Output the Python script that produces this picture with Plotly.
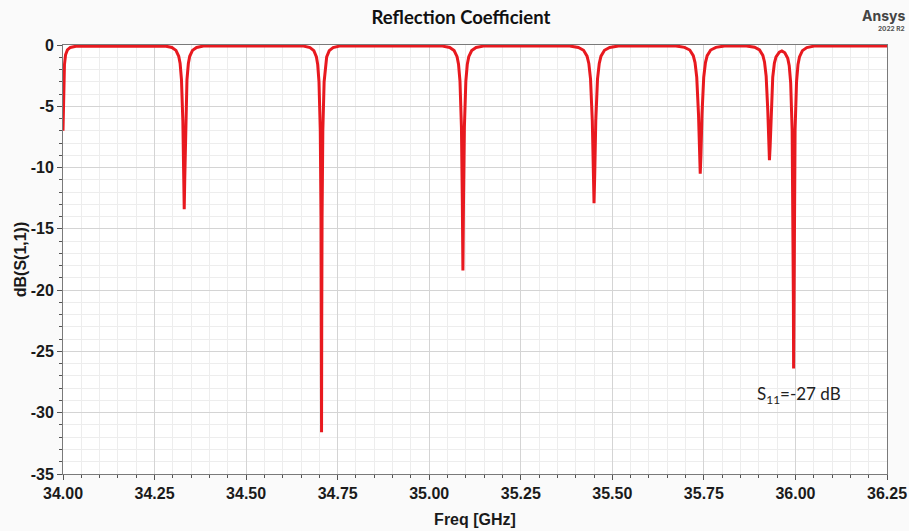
import plotly.graph_objects as go

# ---- data (frequency in GHz, S11 in dB) ----
edge_f = [34.000, 34.001, 34.002, 34.004, 34.007, 34.012, 34.020, 34.035]
edge_db = [-7.0, -5.0, -3.2, -1.6, -0.8, -0.4, -0.2, -0.1]

dip1_f = [34.2785, 34.2973, 34.3085, 34.3160, 34.3198, 34.3235, 34.3273, 34.3295, 34.3310,
          34.3325, 34.3348, 34.3385, 34.3423, 34.3460, 34.3535, 34.3648, 34.3835]
dip1_db = [-0.08, -0.20, -0.44, -0.92, -1.51, -2.82, -6.26, -10.84, -13.4,
           -10.84, -6.26, -2.82, -1.51, -0.92, -0.44, -0.20, -0.08]

dip2_f = [34.6570, 34.6745, 34.6850, 34.6920, 34.6955, 34.6990, 34.7025, 34.7046, 34.7055, 34.7060,
          34.7065, 34.7074, 34.7095, 34.7130, 34.7165, 34.7200, 34.7270, 34.7375, 34.7550]
dip2_db = [-0.09, -0.21, -0.46, -0.97, -1.60, -3.01, -6.98, -14.08, -22.5, -31.6,
           -22.5, -14.08, -6.98, -3.01, -1.60, -0.97, -0.46, -0.21, -0.09]

dip3_f = [35.0360, 35.0560, 35.0680, 35.0760, 35.0800, 35.0840, 35.0880, 35.0904, 35.0920,
          35.0936, 35.0960, 35.1000, 35.1040, 35.1080, 35.1160, 35.1280, 35.1480]
dip3_db = [-0.09, -0.20, -0.45, -0.95, -1.57, -2.95, -6.74, -12.8, -18.4,
           -12.8, -6.74, -2.95, -1.57, -0.95, -0.45, -0.20, -0.09]

dip4_f = [35.3835, 35.4073, 35.4215, 35.4310, 35.4358, 35.4405, 35.4453, 35.4481, 35.4500,
          35.4519, 35.4548, 35.4595, 35.4643, 35.4690, 35.4785, 35.4928, 35.5165]
dip4_db = [-0.08, -0.20, -0.43, -0.91, -1.50, -2.79, -6.18, -10.57, -12.9,
           -10.57, -6.18, -2.79, -1.50, -0.91, -0.43, -0.20, -0.08]

dip5_f = [35.6735, 35.6973, 35.7115, 35.7210, 35.7258, 35.7305, 35.7353, 35.7381, 35.7400,
          35.7419, 35.7448, 35.7495, 35.7543, 35.7590, 35.7685, 35.7828, 35.8065]
dip5_db = [-0.08, -0.19, -0.41, -0.87, -1.43, -2.64, -5.67, -9.06, -10.5,
           -9.06, -5.67, -2.64, -1.43, -0.87, -0.41, -0.19, -0.08]

dip67_f = [35.8660, 35.8885, 35.9020, 35.9110, 35.9155, 35.9200, 35.9245, 35.9272, 35.9290,
           35.9308, 35.9335, 35.9380, 35.9425, 35.9470, 35.9560, 35.9630, 35.9710,
           35.9790, 35.9830, 35.9870, 35.9910, 35.9934, 35.9944, 35.9950,
           35.9956, 35.9966, 35.9990, 36.0030, 36.0070, 36.0110, 36.0190, 36.0310, 36.0510]
dip67_db = [-0.08, -0.18, -0.40, -0.85, -1.38, -2.54, -5.35, -8.27, -9.4,
            -8.33, -5.42, -2.63, -1.48, -0.97, -0.58, -0.48, -0.63,
            -1.09, -1.69, -3.09, -7.0, -13.9, -21.0, -26.4,
            -21.0, -13.9, -6.95, -3.0, -1.59, -0.97, -0.46, -0.21, -0.09]

tail_f = [36.25]
tail_db = [-0.08]

freq = edge_f + dip1_f + dip2_f + dip3_f + dip4_f + dip5_f + dip67_f + tail_f
s11 = edge_db + dip1_db + dip2_db + dip3_db + dip4_db + dip5_db + dip67_db + tail_db

x_ticks = [34.00, 34.25, 34.50, 34.75, 35.00, 35.25, 35.50, 35.75, 36.00, 36.25]
x_labels = ["34.00", "34.25", "34.50", "34.75", "35.00", "35.25", "35.50", "35.75", "36.00", "36.25"]
y_ticks = [0, -5, -10, -15, -20, -25, -30, -35]
y_labels = ["0", "-5", "-10", "-15", "-20", "-25", "-30", "-35"]

ML, MR, MT, MB = 63, 22, 45, 57
W, H = 909, 531
PW, PH = W - ML - MR, H - MT - MB

fig = go.Figure()
fig.add_trace(go.Scatter(x=freq, y=s11, mode="lines",
                         line=dict(color="#E8191F", width=3), showlegend=False))

axfont = dict(family="Liberation Sans", size=16, color="#1a1a1a", weight="bold")
fig.update_layout(
    width=W, height=H,
    margin=dict(l=ML, r=MR, t=MT, b=MB, autoexpand=False),
    paper_bgcolor="#FAFAFA", plot_bgcolor="#FFFFFF",
    title=dict(text="Reflection Coefficient", x=461 / W, xanchor="center",
               y=1 - 18 / H, yanchor="middle",
               font=dict(family="Lato", size=18.5, color="#111", weight="bold")),
    xaxis=dict(range=[34, 36.25], tickvals=x_ticks, ticktext=x_labels, automargin=False,
               ticks="outside", ticklen=5, tickcolor="#555", tickfont=axfont,
               showline=True, linecolor="#7a7a7a", linewidth=1, mirror=True,
               showgrid=True, gridcolor="#D4D4D4", zeroline=False,
               minor=dict(dtick=0.05, tick0=34, ticks="outside", ticklen=3, tickcolor="#555",
                          showgrid=True, gridcolor="#EDEDED"),
               title=dict(text="Freq [GHz]", standoff=12, font=axfont)),
    yaxis=dict(range=[-35, 0], tickvals=y_ticks, ticktext=y_labels, automargin=False,
               ticks="outside", ticklen=5, tickcolor="#555", tickfont=axfont,
               showline=True, linecolor="#7a7a7a", linewidth=1, mirror=True,
               showgrid=True, gridcolor="#D4D4D4", zeroline=False,
               minor=dict(dtick=1, tick0=0, ticks="outside", ticklen=3, tickcolor="#555",
                          showgrid=True, gridcolor="#EDEDED"),
               title=dict(text="dB(S(1,1))", standoff=0, font=axfont)),
)

fig.add_annotation(text="S<sub>11</sub>=-27 dB", xref="paper", yref="paper",
                   x=(755 - ML) / PW, y=(H - MB - 395) / PH, xanchor="left", yanchor="middle",
                   showarrow=False, font=dict(family="Lato", size=17, color="#222"))
fig.add_annotation(text="Ansys", xref="paper", yref="paper",
                   x=(907 - ML) / PW, y=(H - MB - 16) / PH, xanchor="right", yanchor="middle",
                   showarrow=False, font=dict(family="Inter", size=14, color="#444", weight="bold"))
fig.add_annotation(text="2022 R2", xref="paper", yref="paper",
                   x=(907 - ML) / PW, y=(H - MB - 29.5) / PH, xanchor="right", yanchor="middle",
                   showarrow=False, font=dict(family="Inter", size=6.5, color="#555", weight="bold"))

fig.write_html("out.html", config={"displayModeBar": False},
               post_script="document.documentElement.style.margin='0';"
                           "document.body.style.margin='0';"
                           "document.body.style.overflow='hidden';")
